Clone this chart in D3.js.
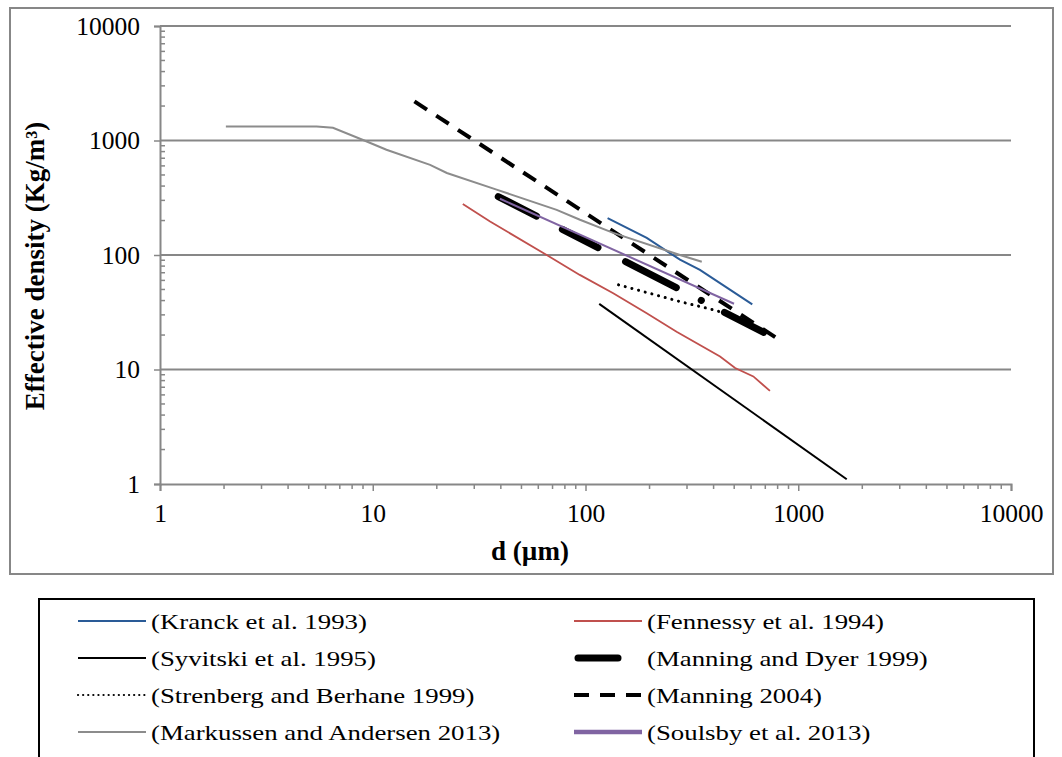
<!DOCTYPE html>
<html>
<head>
<meta charset="utf-8">
<script src="https://cdn.jsdelivr.net/npm/d3@7"></script>
<style>
  body { margin: 0; background: #fff; }
  text { font-family: "Liberation Serif", "Times New Roman", serif; fill: #000; }
</style>
</head>
<body>
<svg id="chart" width="1062" height="757"></svg>
<script>
// axis ticks
const majorTicks = [1, 10, 100, 1000, 10000];
const tickLabels = ["1", "10", "100", "1000", "10000"];

// series values (d in µm, effective density in kg/m3)
const kranckD = [127, 194, 278, 345, 608];
const kranckR = [210, 141, 91, 74, 37];
const fennessyD = [26.5, 35.6, 65.7, 94, 135, 194, 268, 429, 505, 615, 736];
const fennessyR = [279, 196, 100, 67, 46.4, 31, 21.4, 13.0, 10.3, 8.7, 6.5];
const syvitskiD = [116, 1690];
const syvitskiR = [37.4, 1.1];
const dyerD = [38.9, 698];
const dyerR = [324, 20.8];
const strenbergD = [143, 278, 413, 480];
const strenbergR = [54.9, 39.2, 32.7, 29.5];
const manningD = [15.7, 792];
const manningR = [2197, 18.8];
const markussenD = [2.04, 5.45, 6.5, 9.19, 11.6, 18.6, 22.3, 38.2, 73.2, 94.2, 135, 278, 352];
const markussenR = [1328, 1328, 1290, 996, 830, 612, 520, 372, 248, 203, 156, 100, 87.3];
const soulsbyD = [39.6, 499];
const soulsbyR = [310, 37.5];

const series = [
  {name: "(Kranck et al. 1993)", d: kranckD, r: kranckR, color: "#2a5b97", w: 2},
  {name: "(Fennessy et al. 1994)", d: fennessyD, r: fennessyR, color: "#c0504d", w: 1.8},
  {name: "(Syvitski et al. 1995)", d: syvitskiD, r: syvitskiR, color: "#000", w: 2},
  {name: "(Manning and Dyer 1999)", d: dyerD, r: dyerR, color: "#000", w: 7, dash: "43,29,40,31,57,28,0.1,26,44,300", cap: "round", legDash: "40,40"},
  {name: "(Strenberg and Berhane 1999)", d: strenbergD, r: strenbergR, color: "#000", w: 3, dash: "0.1,6.8", cap: "round", legW: 2.2, legDash: "0.1,5"},
  {name: "(Manning 2004)", d: manningD, r: manningR, color: "#000", w: 4, dash: "15,11"},
  {name: "(Markussen and Andersen 2013)", d: markussenD, r: markussenR, color: "#8c8c8c", w: 2},
  {name: "(Soulsby et al. 2013)", d: soulsbyD, r: soulsbyR, color: "#8064a2", w: 2, legW: 4.5}
];

const svg = d3.select("#chart");
const x = d3.scaleLog().domain([1, 10000]).range([160, 1011]);
const y = d3.scaleLog().domain([1, 10000]).range([484, 26]);
const gridColor = "#878787";

// outer chart frame
svg.append("rect")
  .attr("x", 10).attr("y", 8).attr("width", 1043).attr("height", 566)
  .attr("fill", "none").attr("stroke", gridColor).attr("stroke-width", 2);

// horizontal gridlines
svg.append("g").selectAll("line")
  .data(majorTicks.slice(1))
  .join("line")
  .attr("x1", x(1)).attr("x2", x(10000))
  .attr("y1", d => y(d)).attr("y2", d => y(d))
  .attr("stroke", gridColor).attr("stroke-width", 2);

// minor ticks (2..9 in each decade)
const minors = x.ticks().filter(v => !majorTicks.includes(v));
svg.append("g").selectAll("line")
  .data(minors)
  .join("line")
  .attr("x1", d => x(d)).attr("x2", d => x(d))
  .attr("y1", y(1)).attr("y2", y(1) + 5)
  .attr("stroke", gridColor).attr("stroke-width", 1.5);
svg.append("g").selectAll("line")
  .data(minors)
  .join("line")
  .attr("x1", x(1)).attr("x2", x(1) + 5)
  .attr("y1", d => y(d)).attr("y2", d => y(d))
  .attr("stroke", gridColor).attr("stroke-width", 1.5);

// axes
const xAxis = svg.append("g")
  .attr("transform", `translate(0,${y(1)})`)
  .call(d3.axisBottom(x).tickValues(majorTicks).tickFormat((d, i) => tickLabels[i]).tickSize(7).tickPadding(13));
const yAxis = svg.append("g")
  .attr("transform", `translate(${x(1)},0)`)
  .call(d3.axisLeft(y).tickValues(majorTicks).tickFormat((d, i) => tickLabels[i]).tickSize(6).tickPadding(14));
[xAxis, yAxis].forEach(g => {
  g.select(".domain").attr("stroke", gridColor).attr("stroke-width", 2);
  g.selectAll(".tick line").attr("stroke", gridColor).attr("stroke-width", 1.5);
  g.selectAll(".tick text").attr("font-size", 25.5).attr("fill", "#000")
    .attr("font-family", "'Liberation Serif', 'Times New Roman', serif");
});

// axis titles
svg.append("text")
  .attr("x", 530).attr("y", 560)
  .attr("text-anchor", "middle").attr("font-size", 27).attr("font-weight", "bold")
  .text("d (µm)");
svg.append("text")
  .attr("transform", "translate(44,266) rotate(-90)")
  .attr("text-anchor", "middle").attr("font-size", 27).attr("font-weight", "bold")
  .text("Effective density (Kg/m³)");

// series lines
const line = d3.line().x(p => x(p[0])).y(p => y(p[1]));
svg.append("g").selectAll("path")
  .data(series)
  .join("path")
  .attr("d", s => line(d3.zip(s.d, s.r)))
  .attr("fill", "none")
  .attr("stroke", s => s.color)
  .attr("stroke-width", s => s.w)
  .attr("stroke-dasharray", s => s.dash || null)
  .attr("stroke-linecap", s => s.cap || "butt");

// legend
svg.append("rect")
  .attr("x", 39).attr("y", 599).attr("width", 995).attr("height", 200)
  .attr("fill", "none").attr("stroke", "#000").attr("stroke-width", 2);
const rowY = [621, 658, 695, 732];
const colX = [78, 574];
const leg = svg.append("g").selectAll("g")
  .data(series)
  .join("g")
  .attr("transform", (s, i) => `translate(${colX[i % 2]},${rowY[Math.floor(i / 2)]})`);
leg.append("line")
  .attr("x1", 0).attr("x2", 68)
  .attr("stroke", s => s.color)
  .attr("stroke-width", s => s.legW || s.w)
  .attr("stroke-dasharray", s => s.legDash || s.dash || null)
  .attr("stroke-linecap", s => s.cap || "butt")
  .attr("transform", s => s.legDash === "40,40" ? "translate(4,0)" : null);
leg.append("text")
  .attr("transform", "translate(73,7.5) scale(1.22,1)")
  .attr("font-size", 22)
  .text(s => s.name);
</script>
</body>
</html>
